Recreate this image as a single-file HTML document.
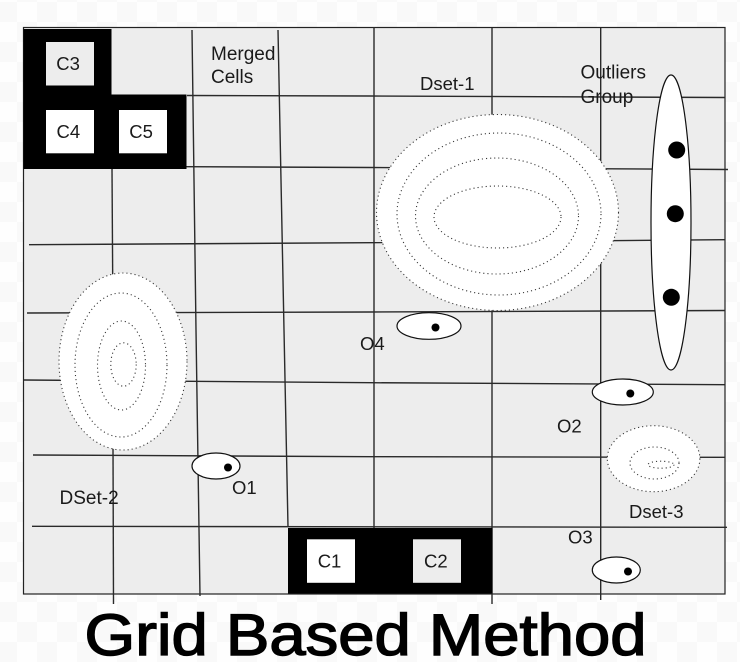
<!DOCTYPE html>
<html><head><meta charset="utf-8">
<style>
html,body{margin:0;padding:0;width:740px;height:662px;overflow:hidden;background:#fff}
svg{display:block;position:absolute;left:0;top:0}
text{font-family:"Liberation Sans",sans-serif;font-size:18.5px;fill:#1a1a1a}
text.w{font-size:19px}
</style></head>
<body>
<svg width="740" height="662" viewBox="0 0 740 662" xmlns="http://www.w3.org/2000/svg">
<defs>
<pattern id="chk" width="40" height="40" patternUnits="userSpaceOnUse" x="-3" y="2">
<rect width="40" height="40" fill="#fefefe"/>
<rect width="20" height="20" fill="#f9f9f9"/>
<rect x="20" y="20" width="20" height="20" fill="#f9f9f9"/>
</pattern>
</defs>
<rect width="740" height="662" fill="url(#chk)"/>
<rect x="23.5" y="27.5" width="701.5" height="566.5" fill="#ededed" stroke="#222" stroke-width="1.2"/>

<g stroke="#2a2a2a" stroke-width="1.4" fill="none">
<!-- verticals -->
<line x1="112" y1="168" x2="112.7" y2="280"/>
<line x1="113" y1="445" x2="113.5" y2="604"/>
<polyline points="192,30 196,330 200,596"/>
<polyline points="278,30 284,330 288,527"/>
<line x1="374" y1="27" x2="374" y2="594"/>
<line x1="492" y1="28" x2="492" y2="604"/>
<line x1="600.7" y1="28" x2="600.7" y2="600"/>
<!-- horizontals -->
<polyline points="187,95.5 370,96 725,97.5"/>
<polyline points="186,166.7 370,167.5 728,169.5"/>
<polyline points="29,244.7 370,242.7 725,239.7"/>
<polyline points="27,313 370,312 725,310.5"/>
<polyline points="24,380 370,382.7 725,384.7"/>
<polyline points="33,455 370,456.7 725,457.3"/>
<line x1="32" y1="526.3" x2="727" y2="527.3"/>
</g>

<!-- black merged cells -->
<polygon points="23.5,29 111.5,29 111.5,94.5 186.5,94.5 186.5,169 23.5,169" fill="#000"/>
<rect x="288" y="528" width="204.5" height="65.5" fill="#000"/>
<rect x="46" y="42" width="48" height="43.5" fill="#ededed"/>
<rect x="46" y="110" width="48" height="43.3" fill="#fff"/>
<rect x="119" y="110" width="48" height="43.3" fill="#fff"/>
<rect x="307" y="539.3" width="48" height="43.5" fill="#fff"/>
<rect x="413" y="539.3" width="48" height="43.5" fill="#ededed"/>

<!-- dotted datasets -->
<g fill="#fff" stroke="#333" stroke-width="1.1" stroke-dasharray="1.1 3">
<ellipse cx="497.5" cy="212.5" rx="121" ry="98"/>
<ellipse cx="499" cy="214" rx="102" ry="81"/>
<ellipse cx="497" cy="216" rx="81.5" ry="58"/>
<ellipse cx="497.5" cy="217" rx="63.5" ry="31"/>
<ellipse cx="123" cy="361.5" rx="64" ry="88.5"/>
<ellipse cx="121" cy="365" rx="46" ry="72"/>
<ellipse cx="121.5" cy="365.5" rx="24" ry="44.5"/>
<ellipse cx="123.5" cy="364.5" rx="12.7" ry="21.7"/>
<ellipse cx="653.6" cy="458.7" rx="46.3" ry="33"/>
<ellipse cx="654.5" cy="463" rx="24.5" ry="16"/>
<ellipse cx="661" cy="464.7" rx="13" ry="3.5"/>
</g>

<!-- outliers -->
<g fill="#fff" stroke="#111" stroke-width="1.2">
<ellipse cx="671" cy="222.5" rx="20" ry="147.5"/>
<ellipse cx="429" cy="326" rx="32" ry="13.3"/>
<ellipse cx="216" cy="466" rx="24" ry="13"/>
<ellipse cx="622.8" cy="392" rx="30.5" ry="13"/>
<ellipse cx="616.3" cy="570" rx="24" ry="13"/>
</g>
<g fill="#000">
<circle cx="676.7" cy="150" r="8.5"/>
<circle cx="675.3" cy="213.7" r="8.5"/>
<circle cx="671.3" cy="297.3" r="8.5"/>
<circle cx="435.5" cy="327.5" r="4"/>
<circle cx="228" cy="467.5" r="4"/>
<circle cx="630.3" cy="393.5" r="4"/>
<circle cx="628" cy="571.5" r="4"/>
</g>

<!-- labels -->
<text x="56.3" y="70">C3</text>
<text x="56.5" y="138">C4</text>
<text x="129.3" y="138">C5</text>
<text x="317.7" y="567.7">C1</text>
<text x="424" y="567.7">C2</text>
<text class="w" x="211" y="60">Merged</text>
<text class="w" x="211" y="83">Cells</text>
<text x="420" y="90">Dset-1</text>
<text class="w" x="580.5" y="78.5">Outliers</text>
<text class="w" x="580.5" y="103">Group</text>
<text x="360" y="350">O4</text>
<text class="w" x="59.5" y="504">DSet-2</text>
<text x="232" y="494">O1</text>
<text x="557" y="432.7">O2</text>
<text x="629" y="518">Dset-3</text>
<text x="568" y="543.3">O3</text>
<text x="84.5" y="655" textLength="562" lengthAdjust="spacingAndGlyphs" style="font-size:58px;fill:#000;stroke:#000;stroke-width:1.4px">Grid Based Method</text>
</svg>
</body></html>
